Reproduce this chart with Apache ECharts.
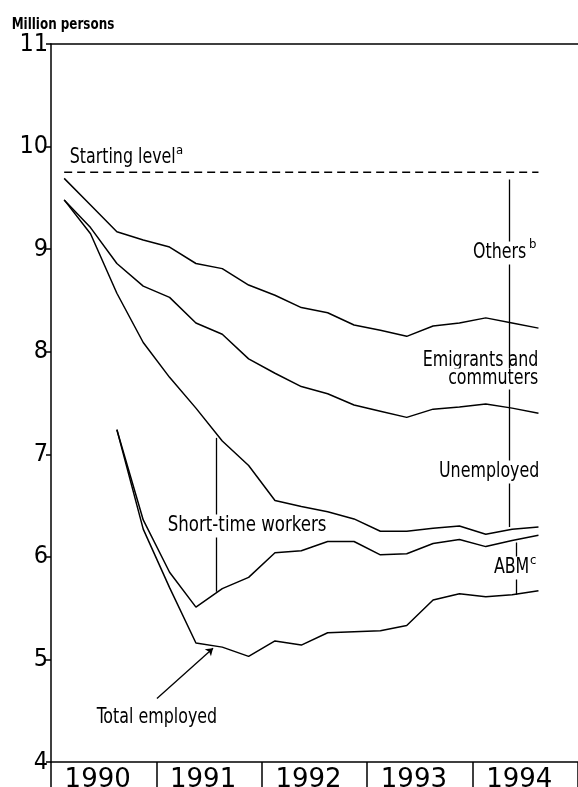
<!DOCTYPE html>
<html>
<head>
<meta charset="utf-8">
<script src="https://cdn.jsdelivr.net/npm/echarts@6/dist/echarts.min.js"></script>
<style>
  html, body { margin: 0; padding: 0; background: #fff; }
  #chart { width: 578px; height: 787px; }
</style>
</head>
<body>
<div id="chart"></div>
<script>
// quarters 1990Q1 .. 1994Q4 (last quarter has no data)
const quarters = ['1990Q1', '1990Q2', '1990Q3', '1990Q4', '1991Q1', '1991Q2', '1991Q3', '1991Q4',
  '1992Q1', '1992Q2', '1992Q3', '1992Q4', '1993Q1', '1993Q2', '1993Q3', '1993Q4',
  '1994Q1', '1994Q2', '1994Q3', '1994Q4'];
const years = ['1990', '1991', '1992', '1993', '1994'];

const startingLevel = [9.75, 9.75, 9.75, 9.75, 9.75, 9.75, 9.75, 9.75, 9.75, 9.75,
  9.75, 9.75, 9.75, 9.75, 9.75, 9.75, 9.75, 9.75, 9.75];
// upper edge of each band (cumulative), million persons
const emigrantsTop = [9.69, 9.43, 9.17, 9.09, 9.02, 8.86, 8.81, 8.65, 8.55, 8.43,
  8.38, 8.26, 8.21, 8.15, 8.25, 8.28, 8.33, 8.28, 8.23];
const unemployedTop = [9.48, 9.21, 8.86, 8.64, 8.53, 8.28, 8.17, 7.93, 7.79, 7.66,
  7.59, 7.48, 7.42, 7.36, 7.44, 7.46, 7.49, 7.45, 7.40];
const shortTimeTop = [9.48, 9.15, 8.57, 8.09, 7.75, 7.45, 7.13, 6.89, 6.55, 6.49,
  6.44, 6.37, 6.25, 6.25, 6.28, 6.30, 6.22, 6.27, 6.29];
const abmTop = [null, null, 7.24, 6.36, 5.85, 5.51, 5.69, 5.80, 6.04, 6.06,
  6.15, 6.15, 6.02, 6.03, 6.13, 6.17, 6.10, 6.16, 6.21];
const totalEmployed = [null, null, 7.24, 6.27, 5.70, 5.16, 5.12, 5.03, 5.18, 5.14,
  5.26, 5.27, 5.28, 5.33, 5.58, 5.64, 5.61, 5.63, 5.67];

const condensed = '"DejaVu Sans Condensed", sans-serif';

// x in quarters from start of 1990, y in million persons
const pointerLines = [
  [[17.38, 9.68], [17.38, 6.29]],   // others / emigrants / unemployed
  [[17.64, 6.14], [17.64, 5.63]],   // ABM
  [[6.28, 7.16], [6.28, 5.66]]      // short-time workers
];
const arrowLine = [[4.02, 4.62], [6.15, 5.11]];

const toXY = (arr) => arr.map((v, i) => [i + 0.5, v]);

const chart = echarts.init(document.getElementById('chart'), null, { renderer: 'canvas' });

const lineStyle = { color: '#000', width: 1.5 };
const mkSeries = (name, arr, extra) => Object.assign({
  name: name,
  type: 'line',
  data: toXY(arr),
  symbol: 'none',
  connectNulls: false,
  lineStyle: lineStyle,
  silent: true,
  xAxisIndex: 0
}, extra || {});

const markLines = pointerLines.map(p => [{ coord: p[0] }, { coord: p[1] }]);
markLines.push([{ coord: arrowLine[0], symbol: 'none' }, { coord: arrowLine[1], symbol: 'arrow', symbolSize: 7 }]);

// tall, narrow label text (squeezed horizontally)
const text = (x, y, str, align, opts) => {
  opts = opts || {};
  return {
    type: 'text',
    z: 100,
    x: x, y: y,
    scaleX: opts.scaleX || 0.84,
    style: {
      x: 0, y: 0, text: str,
      font: (opts.font || '21px') + ' ' + condensed,
      fill: '#000',
      textAlign: align,
      textVerticalAlign: 'middle',
      backgroundColor: opts.bg === false ? 'transparent' : '#fff',
      padding: opts.padding || [1, 2]
    }
  };
};
const sup = (x, y, str) => ({
  type: 'text', z: 101, x: x, y: y,
  style: { x: 0, y: 0, text: str, font: '13px ' + condensed, fill: '#000', textAlign: 'left', textVerticalAlign: 'middle' }
});

const option = {
  animation: false,
  backgroundColor: '#fff',
  grid: { left: 51, right: 0, top: 44, bottom: 25, containLabel: false, outerBoundsMode: 'none' },
  xAxis: [
    { type: 'value', min: 0, max: 20, show: false },
    {
      type: 'category', data: years, position: 'bottom', boundaryGap: true,
      axisLine: { show: true, lineStyle: { color: '#000', width: 1.5 } },
      axisTick: { show: true, interval: 0, length: 25, inside: false, lineStyle: { color: '#000', width: 1.5 } },
      axisLabel: { color: '#000', fontSize: 26, fontFamily: 'DejaVu Sans', margin: 5, interval: 0, padding: [0, 12, 0, 0] },
      splitLine: { show: false }
    },
    {
      type: 'value', position: 'top', min: 0, max: 20,
      axisLine: { show: true, onZero: false, lineStyle: { color: '#000', width: 1.5 } },
      axisTick: { show: false }, axisLabel: { show: false }, splitLine: { show: false }
    }
  ],
  yAxis: {
    type: 'value', min: 4, max: 11, interval: 1,
    axisLine: { show: true, lineStyle: { color: '#000', width: 1.5 } },
    axisTick: { show: true, length: 5, lineStyle: { color: '#000', width: 1.5 } },
    axisLabel: { color: '#000', fontSize: 25, fontFamily: 'DejaVu Sans Condensed', margin: 3 },
    splitLine: { show: false }
  },
  series: [
    mkSeries('Starting level', startingLevel, {
      lineStyle: { color: '#000', width: 1.5, type: [8, 5] },
      markLine: {
        silent: true, symbol: 'none', animation: false,
        label: { show: false },
        lineStyle: { color: '#000', width: 1.3, type: 'solid' },
        data: markLines
      }
    }),
    mkSeries('Emigrants and commuters', emigrantsTop),
    mkSeries('Unemployed', unemployedTop),
    mkSeries('Short-time workers', shortTimeTop),
    mkSeries('ABM', abmTop),
    mkSeries('Total employed', totalEmployed)
  ],
  graphic: [
    text(10, 25, 'Million persons', 'left', { font: 'bold 16px', scaleX: 0.83, bg: false, padding: 0 }),
    text(68, 158, 'Starting level', 'left', { bg: false }),
    sup(176, 151, 'a'),
    text(528, 253, 'Others', 'right'),
    sup(529, 245, 'b'),
    text(540, 361, 'Emigrants and', 'right', { bg: false, padding: 0 }),
    text(540, 379, 'commuters', 'right', { padding: [0, 2] }),
    text(541, 472, 'Unemployed', 'right'),
    text(531, 568, 'ABM', 'right'),
    sup(530, 561, 'c'),
    text(166, 526, 'Short-time workers', 'left', { scaleX: 0.88 }),
    text(95, 718, 'Total employed', 'left', { bg: false })
  ]
};

chart.setOption(option);
</script>
</body>
</html>
